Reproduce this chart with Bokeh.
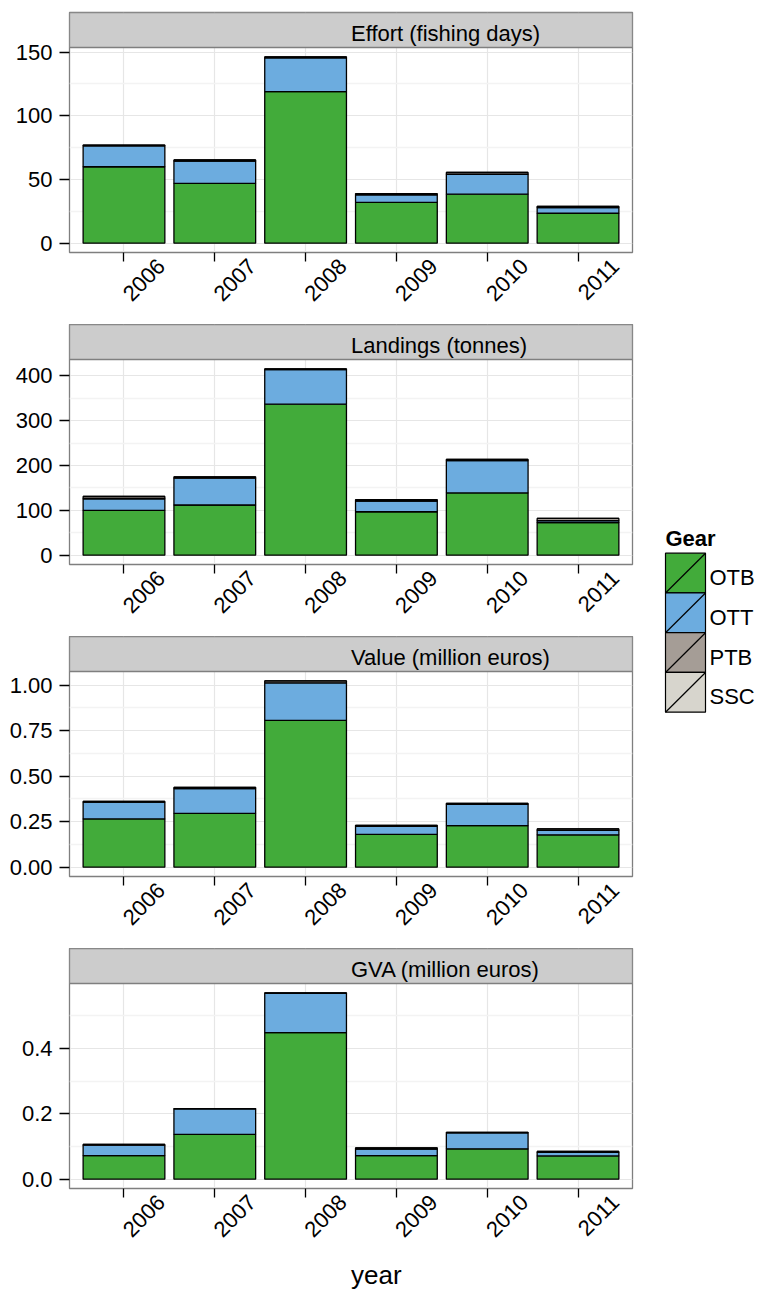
import math
from bokeh.plotting import figure
from bokeh.models import (Range1d, FixedTicker, NumeralTickFormatter, LinearAxis,
                          ColumnDataSource)
from bokeh.layouts import column, row
from bokeh.core.properties import value
from bokeh.embed import file_html
from bokeh.resources import INLINE

# ---------------- data ----------------
years = ["2006", "2007", "2008", "2009", "2010", "2011"]
gears = ["OTB", "OTT", "PTB", "SSC"]
gear_colors = ["#42AB3A", "#6CACDF", "#A59D96", "#D7D5CD"]

effort_otb = [60, 47, 119, 32, 38.5, 23.5]
effort_ott = [16.5, 17.5, 26.5, 6, 15.5, 4.5]
effort_ptb = [0.5, 0.8, 0.8, 0.8, 1.5, 0.8]
effort_ssc = [0, 0, 0, 0, 0, 0]

landings_otb = [100, 112, 337, 97, 139, 73]
landings_ott = [26, 60, 77, 24, 72, 4]
landings_ptb = [5, 3, 2, 3, 3, 5]
landings_ssc = [0, 0, 0, 0, 0, 0]

value_otb = [0.265, 0.296, 0.807, 0.180, 0.228, 0.178]
value_ott = [0.093, 0.136, 0.206, 0.044, 0.117, 0.024]
value_ptb = [0.003, 0.007, 0.011, 0.006, 0.006, 0.008]
value_ssc = [0, 0, 0, 0, 0, 0]

gva_otb = [0.072, 0.137, 0.448, 0.072, 0.093, 0.071]
gva_ott = [0.032, 0.078, 0.120, 0.020, 0.049, 0.011]
gva_ptb = [0.002, 0.001, 0.002, 0.004, 0.001, 0.003]
gva_ssc = [0, 0, 0, 0, 0, 0]

panel_titles = ["Effort (fishing days)", "Landings (tonnes)",
                "Value (million euros)", "GVA (million euros)"]

effort_ticks = [0, 50, 100, 150]
effort_minor = [25, 75, 125]
landings_ticks = [0, 100, 200, 300, 400]
landings_minor = [50, 150, 250, 350]
value_ticks = [0, 0.25, 0.5, 0.75, 1.0]
value_minor = [0.125, 0.375, 0.625, 0.875]
gva_ticks = [0, 0.2, 0.4]
gva_minor = [0.1, 0.3, 0.5]

tick_formats = ["0", "0", "0.00", "0.0"]
x_label = "year"
legend_title = "Gear"

# ---------------- style ----------------
FONT = "Liberation Sans"
FS = "22px"
FIG_W = 652
LEFT = 69
RIGHT = 20
FRAME_H = 205
STRIP_H = 35
GAP = 72
TOP_PAD = 12
XLAB_H = 29
BORDER = "#7f7f7f"
LABEL_SHIFT = 0.41      # horizontal shift of rotated year labels (data units)

panels = [
    ([effort_otb, effort_ott, effort_ptb, effort_ssc], effort_ticks, effort_minor),
    ([landings_otb, landings_ott, landings_ptb, landings_ssc], landings_ticks, landings_minor),
    ([value_otb, value_ott, value_ptb, value_ssc], value_ticks, value_minor),
    ([gva_otb, gva_ott, gva_ptb, gva_ssc], gva_ticks, gva_minor),
]

xpos = [i + 1 for i in range(len(years))]
xs, xe = 1 - 0.6, len(years) + 0.6
xmid = (xs + xe) / 2

figs = []
total_h = 0
for k, (series, ticks, minor) in enumerate(panels):
    top_pad = TOP_PAD if k == 0 else 0
    bottom = GAP

    totals = [sum(v) for v in zip(*series)]
    ymax = max(totals)
    y0, y1 = -0.05 * ymax, 1.05 * ymax
    ystrip = y1 + (y1 - y0) * STRIP_H / FRAME_H

    p = figure(width=FIG_W, height=top_pad + STRIP_H + FRAME_H + bottom,
               x_range=Range1d(xs, xe), y_range=Range1d(y0, ystrip),
               output_backend="svg", toolbar_location=None,
               min_border_left=LEFT, min_border_right=RIGHT,
               min_border_top=top_pad, min_border_bottom=bottom,
               background_fill_color="white", border_fill_color="white",
               outline_line_color=BORDER, outline_line_width=1.3)

    # facet strip
    p.quad(left=[xs], right=[xe], bottom=[y1], top=[ystrip], fill_color="#cccccc",
           line_color=BORDER, line_width=1.3)
    p.text(x=[xmid], y=[y1 + (ystrip - y1) * 0.39], text=[panel_titles[k]],
           text_align="left", text_baseline="alphabetic",
           text_font=value(FONT), text_font_size=value(FS), text_color="black")

    data = {"x": xpos}
    for g, v in zip(gears, series):
        data[g] = v
    src = ColumnDataSource(data)
    p.vbar_stack(gears, x="x", width=0.9, color=gear_colors, line_color="black",
                 line_width=1.3, source=src)

    # x axis: tick marks only
    xt = FixedTicker(ticks=xpos)
    p.xaxis.ticker = xt
    p.xgrid.ticker = xt
    p.xaxis.major_label_overrides = {i: "" for i in xpos}
    p.xaxis.major_label_text_font_size = "0px"
    p.xaxis.major_label_standoff = 0

    yt = FixedTicker(ticks=ticks, minor_ticks=minor)
    p.yaxis.ticker = yt
    p.ygrid.ticker = yt
    p.yaxis.formatter = NumeralTickFormatter(format=tick_formats[k])

    for ax in (p.xaxis, p.yaxis):
        ax.axis_line_color = None
        ax.major_tick_line_color = "black"
        ax.major_tick_line_width = 1.3
        ax.major_tick_in = 0
        ax.major_tick_out = 9
        ax.minor_tick_line_color = None
    p.yaxis.major_tick_out = 10
    p.yaxis.major_label_standoff = 7
    p.yaxis.major_label_text_font = FONT
    p.yaxis.major_label_text_font_size = FS
    p.yaxis.major_label_text_color = "black"

    p.xgrid.grid_line_color = "#e6e6e6"
    p.ygrid.grid_line_color = "#e6e6e6"
    p.xgrid.grid_line_width = 1.2
    p.ygrid.grid_line_width = 1.2
    p.ygrid.minor_grid_line_color = "#f3f3f3"
    p.ygrid.minor_grid_line_width = 1.5

    # x axis: rotated year labels (shifted range so labels sit right of ticks)
    p.extra_x_ranges = {"lab": Range1d(xs - LABEL_SHIFT, xe - LABEL_SHIFT)}
    lab_axis = LinearAxis(x_range_name="lab", ticker=FixedTicker(ticks=xpos),
                          major_label_overrides={i: y for i, y in zip(xpos, years)},
                          major_label_orientation=math.pi / 4,
                          major_tick_in=0, major_tick_out=0,
                          major_tick_line_color=None, minor_tick_line_color=None,
                          axis_line_color=None, major_label_standoff=1,
                          major_label_text_font=FONT,
                          major_label_text_font_size=FS,
                          major_label_text_color="black")
    p.add_layout(lab_axis, "below")

    figs.append(p)
    total_h += top_pad + STRIP_H + FRAME_H + bottom

# x-axis title (starts at the panel centre, as in the reference)
xf = figure(width=FIG_W, height=XLAB_H, x_range=Range1d(xs, xe), y_range=Range1d(0, XLAB_H),
            x_axis_type=None, y_axis_type=None, output_backend="svg",
            toolbar_location=None, min_border_left=LEFT, min_border_right=RIGHT,
            min_border_top=0, min_border_bottom=0, outline_line_color=None,
            background_fill_color="white", border_fill_color="white")
xf.text(x=[xmid], y=[14.5], text=[x_label], text_align="left", text_baseline="alphabetic",
        text_font=value(FONT), text_font_size=value("26px"), text_color="black")
figs.append(xf)
total_h += XLAB_H

# ---------------- legend ----------------
LW = 103
key_x0, key_w = 13, 40
key_top0, key_h = 552.7, 39.75
label_x = 57
title_base = 537.5

leg = figure(width=LW, height=total_h, x_range=Range1d(0, LW), y_range=Range1d(total_h, 0),
             x_axis_type=None, y_axis_type=None, output_backend="svg",
             toolbar_location=None, min_border=0, outline_line_color=None,
             background_fill_color="white", border_fill_color="white")
tops = [key_top0 + i * key_h for i in range(len(gears))]
bots = [t + key_h for t in tops]
bases = [t + 24.5 for t in tops]
leg.quad(left=key_x0, right=key_x0 + key_w, top=tops, bottom=bots,
         fill_color=gear_colors, line_color="black", line_width=1.2)
leg.segment(x0=key_x0, y0=bots, x1=key_x0 + key_w, y1=tops, line_color="black",
            line_width=1.2)
leg.text(x=label_x, y=bases, text=gears, text_baseline="alphabetic", text_align="left",
         text_font=value(FONT), text_font_size=value(FS), text_color="black")
leg.text(x=key_x0, y=title_base, text=[legend_title], text_baseline="alphabetic",
         text_align="left", text_font=value(FONT), text_font_size=value(FS),
         text_font_style="bold", text_color="black")

layout = row(column(*figs), leg)
open("out.html", "w").write(file_html(layout, INLINE))
